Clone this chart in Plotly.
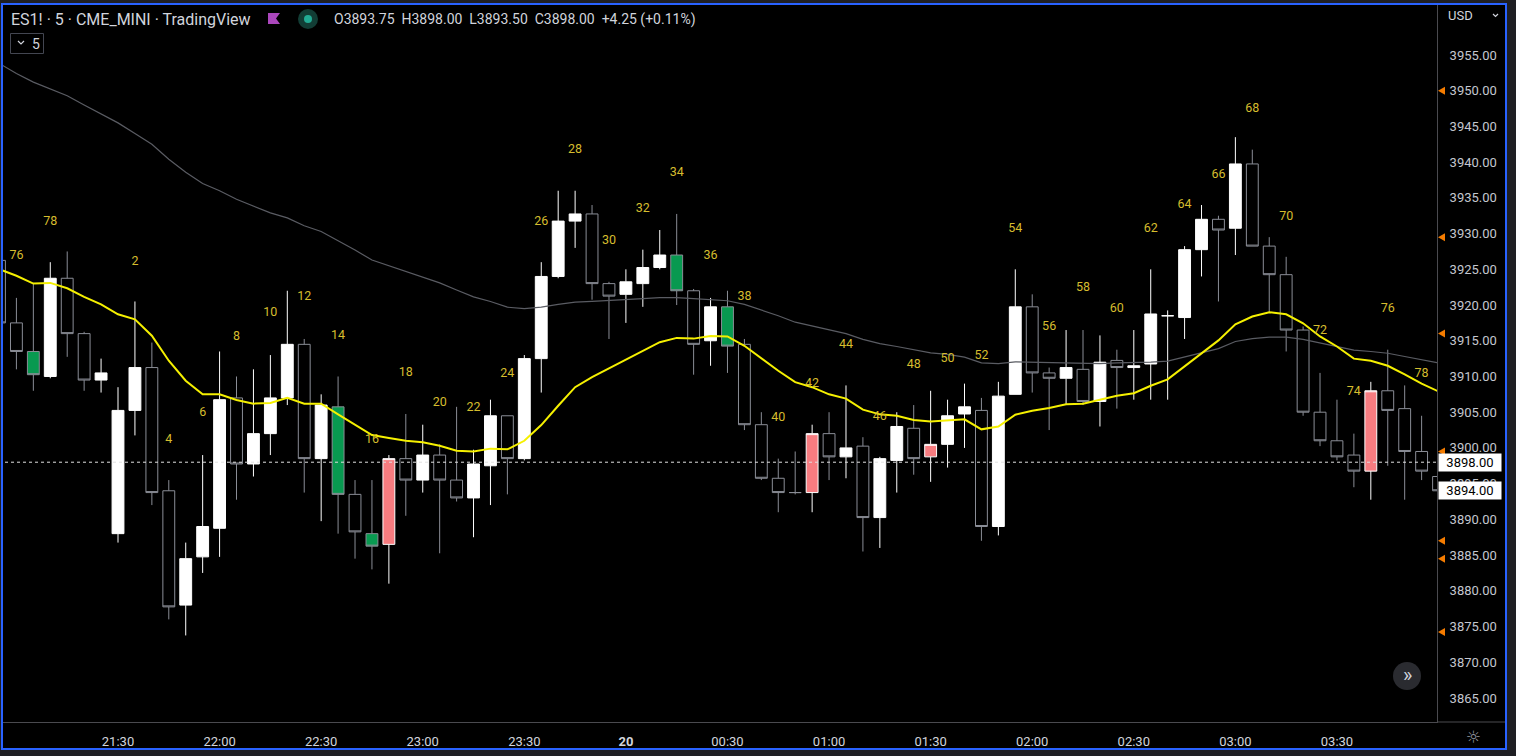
import plotly.graph_objects as go
import pandas as pd

# ---------------- data ----------------
times = list(pd.date_range('2023-01-19 20:55', periods=86, freq='5min'))

opens = [3926.25, 3917.5, 3913.5, 3910.0, 3923.75, 3916.0, 3909.5, 3888.0, 3905.25, 3911.25,
         3894.0, 3878.0, 3884.75, 3888.75, 3907.0, 3897.75, 3902.0, 3907.0, 3914.5, 3898.5,
         3905.75, 3893.5, 3888.0, 3886.5, 3898.5, 3895.5, 3899.0, 3895.5, 3893.0, 3897.5,
         3904.5, 3898.5, 3912.5, 3924.0, 3931.75, 3932.75, 3923.0, 3921.5, 3923.0, 3925.25,
         3927.0, 3922.0, 3915.0, 3919.75, 3914.5, 3903.25, 3895.75, 3893.75, 3893.75, 3902.0,
         3898.75, 3900.25, 3890.25, 3898.25, 3902.75, 3898.75, 3900.5, 3904.75, 3905.25, 3889.0,
         3907.5, 3919.75, 3910.5, 3909.75, 3911.0, 3906.5, 3912.25, 3911.25, 3911.75, 3918.5,
         3918.25, 3927.75, 3932.0, 3930.75, 3939.75, 3928.25, 3924.25, 3916.5, 3905.0, 3901.0,
         3899.0, 3896.75, 3908.0, 3905.5, 3899.5, 3896.0]
highs = [3927.0, 3921.0, 3923.0, 3926.0, 3927.5, 3916.25, 3912.5, 3908.5, 3920.5, 3914.75,
         3895.5, 3886.75, 3899.0, 3913.5, 3910.0, 3911.0, 3913.0, 3922.0, 3915.25, 3907.5,
         3910.0, 3895.5, 3895.5, 3899.0, 3904.75, 3903.25, 3900.5, 3905.75, 3899.75, 3906.75,
         3904.5, 3913.0, 3926.0, 3936.0, 3936.0, 3934.0, 3923.25, 3925.0, 3927.75, 3930.5,
         3932.75, 3922.25, 3921.0, 3922.0, 3915.25, 3905.0, 3898.5, 3899.5, 3903.25, 3905.0,
         3908.75, 3901.5, 3898.75, 3905.0, 3906.0, 3908.0, 3906.75, 3909.0, 3907.0, 3909.25,
         3925.0, 3921.5, 3911.25, 3916.5, 3916.5, 3915.75, 3913.75, 3916.5, 3925.0, 3919.25,
         3928.25, 3934.0, 3932.5, 3943.5, 3941.75, 3929.5, 3926.75, 3917.0, 3910.5, 3906.75,
         3902.0, 3909.25, 3913.75, 3908.75, 3904.5, 3898.0]
lows = [3916.5, 3911.0, 3908.0, 3909.75, 3912.75, 3908.0, 3907.75, 3886.75, 3901.75, 3892.0,
        3876.0, 3873.75, 3882.5, 3884.75, 3892.75, 3896.0, 3899.0, 3906.0, 3893.75, 3889.75,
        3888.0, 3884.5, 3883.0, 3881.0, 3890.5, 3893.75, 3885.25, 3892.5, 3887.5, 3892.0,
        3893.5, 3898.25, 3907.75, 3923.75, 3928.0, 3920.75, 3915.25, 3917.5, 3919.75, 3925.0,
        3920.0, 3910.25, 3911.5, 3910.5, 3902.5, 3895.5, 3891.0, 3893.5, 3891.0, 3895.5,
        3895.75, 3885.5, 3886.0, 3893.75, 3896.25, 3895.25, 3897.25, 3900.0, 3887.0, 3887.75,
        3907.5, 3907.75, 3902.5, 3906.0, 3906.0, 3903.0, 3905.5, 3906.75, 3906.75, 3906.75,
        3915.25, 3924.0, 3920.5, 3927.0, 3928.25, 3919.0, 3913.5, 3904.5, 3900.25, 3898.25,
        3894.5, 3892.75, 3897.5, 3892.75, 3895.5, 3893.5]
closes = [3917.5, 3913.5, 3910.25, 3923.75, 3916.0, 3909.5, 3910.5, 3905.25, 3911.25, 3893.75,
          3877.75, 3884.5, 3889.0, 3906.75, 3897.75, 3902.0, 3907.0, 3914.5, 3898.5, 3906.0,
          3893.5, 3888.25, 3886.25, 3898.5, 3895.5, 3899.0, 3895.5, 3893.0, 3897.75, 3904.5,
          3898.5, 3912.5, 3924.0, 3931.75, 3932.75, 3923.0, 3921.25, 3923.25, 3925.25, 3927.0,
          3922.0, 3914.5, 3919.75, 3914.25, 3903.25, 3895.75, 3893.75, 3893.75, 3902.0, 3898.75,
          3900.0, 3890.25, 3898.5, 3903.0, 3898.5, 3900.5, 3904.5, 3905.75, 3889.0, 3907.25,
          3919.75, 3910.5, 3909.75, 3911.25, 3906.5, 3912.0, 3911.25, 3911.5, 3918.75, 3918.5,
          3927.75, 3932.0, 3930.5, 3939.75, 3928.25, 3924.25, 3916.5, 3905.0, 3901.0, 3898.75,
          3896.75, 3908.0, 3905.25, 3899.5, 3896.75, 3894.0]
# candle style per bar: W white (up), H hollow (down), G green, P pink
kinds = list("HHGWHHWWWH" "HWWWHWWWHW" "GHGPHWHHWW" "HWWWWHHWWW" "GHWGHHHHPH"
             "WHWWHPWWHW" "WHHWHWHWWW" "WWHWHHHHHH" "HPHHHH")

ema_fast = [3925.0, 3924.1, 3923.0, 3923.1, 3922.35, 3921.15, 3920.1, 3918.7, 3918.0, 3915.7,
            3912.2, 3909.4, 3907.5, 3907.5, 3906.7, 3906.2, 3906.3, 3907.0, 3906.2, 3906.2,
            3904.7, 3903.2, 3901.8, 3901.4, 3901.0, 3900.8, 3900.3, 3899.6, 3899.5, 3899.9,
            3899.8, 3901.0, 3903.2, 3905.9, 3908.5, 3909.9, 3911.1, 3912.3, 3913.5, 3914.8,
            3915.4, 3915.3, 3915.65, 3915.6, 3914.3, 3912.5, 3910.8, 3909.2, 3908.5, 3907.5,
            3906.9, 3905.35, 3904.7, 3904.5, 3903.9, 3903.7, 3903.8, 3904.0, 3902.6, 3903.0,
            3904.65, 3905.2, 3905.6, 3906.1, 3906.2, 3906.7, 3907.3, 3907.65, 3908.7, 3909.6,
            3911.45, 3913.3, 3915.05, 3917.3, 3918.4, 3919.0, 3918.7, 3917.45, 3915.6, 3914.2,
            3912.5, 3912.2, 3911.5, 3910.3, 3909.0, 3907.9]
ma_slow = [3953.8, 3952.4, 3951.2, 3950.3, 3949.3, 3948.0, 3946.8, 3945.5, 3944.0, 3942.5,
           3940.4, 3938.6, 3937.0, 3936.0, 3934.8, 3933.8, 3932.9, 3932.2, 3931.1, 3930.3,
           3929.05, 3927.7, 3926.3, 3925.5, 3924.7, 3923.9, 3923.1, 3922.1, 3921.15, 3920.5,
           3919.7, 3919.5, 3919.7, 3920.1, 3920.4, 3920.5, 3920.6, 3920.7, 3920.9, 3921.05,
           3921.05, 3920.9, 3920.8, 3920.6, 3920.1, 3919.35, 3918.5, 3917.6, 3917.1, 3916.5,
           3916.0, 3915.2, 3914.6, 3914.2, 3913.7, 3913.3, 3913.1, 3912.7, 3911.9, 3911.8,
           3912.05, 3912.0, 3911.95, 3911.9, 3911.8, 3911.8, 3911.9, 3911.9, 3912.0, 3912.15,
           3912.7, 3913.3, 3913.9, 3914.9, 3915.3, 3915.5, 3915.5, 3915.2, 3914.7, 3914.2,
           3913.7, 3913.5, 3913.25, 3912.8, 3912.4, 3911.9]

# bar-count labels: text, bar index, price level
label_text = ["76", "78"] + [str(n) for n in range(2, 80, 2)]
label_idx = [1, 3] + [6 + n for n in range(2, 80, 2)]
label_price = [3926.9, 3931.6, 3926.0, 3901.1, 3904.9, 3915.5, 3918.9, 3921.1, 3915.7, 3901.1,
               3910.5, 3906.3, 3905.6, 3910.3, 3931.6, 3941.7, 3929.0, 3933.4, 3938.5, 3926.9,
               3921.1, 3904.2, 3908.9, 3914.4, 3904.3, 3911.6, 3912.4, 3912.9, 3930.6, 3916.9,
               3922.4, 3919.4, 3930.6, 3934.0, 3938.2, 3947.4, 3932.4, 3916.4, 3907.8, 3919.4,
               3910.3]

alert_prices = [3950.0, 3929.5, 3916.0, 3899.5, 3887.0, 3884.5, 3874.25]
last_price = 3898.00
second_price = 3894.00
price_ticks = list(range(3865, 3960, 5))
time_ticks = ['2023-01-19 21:30', '2023-01-19 22:00', '2023-01-19 22:30', '2023-01-19 23:00',
              '2023-01-19 23:30', '2023-01-20 00:00', '2023-01-20 00:30', '2023-01-20 01:00',
              '2023-01-20 01:30', '2023-01-20 02:00', '2023-01-20 02:30', '2023-01-20 03:00',
              '2023-01-20 03:30']
time_labels = ['21:30', '22:00', '22:30', '23:00', '23:30', '<b>20</b>', '00:30', '01:00',
               '01:30', '02:00', '02:30', '03:00', '03:30']
header_left = "ES1! · 5 · CME_MINI · TradingView"
header_ohlc = "O3893.75  H3898.00  L3893.50  C3898.00  +4.25 (+0.11%)"

assert len(opens) == len(highs) == len(lows) == len(closes) == len(kinds) == 86
assert len(ema_fast) == len(ma_slow) == 86
assert len(label_text) == len(label_idx) == len(label_price)

# ---------------- layout geometry (pixels) ----------------
W, H = 1516, 756
L, R, T, B = 3, 1437, 4, 722
PX_PER_PT = 7.144
Y0 = 3955 - (B - 55) / PX_PER_PT
Y1 = 3955 + (55 - T) / PX_PER_PT


def pxx(x):
    return (x - L) / (R - L)


def pyy(y):
    return 1 - (y - T) / (B - T)


t_ref = pd.Timestamp('2023-01-19 21:30')
px_per_min = 3.386


def px_to_time(x):
    return t_ref + pd.Timedelta(minutes=(x - 118) / px_per_min)


x_range = [px_to_time(L), px_to_time(R)]

FONT = "Roboto"
TXT = "#d1d4dc"
OUTER = '#1f1f23'
SEP = '#4a4a4f'

fig = go.Figure()

styles = {
    'W': ('#ffffff', '#ffffff'),
    'H': ('#000000', '#8a8d96'),
    'G': ('#089950', '#8a8d96'),
    'P': ('#f77c80', '#ffffff'),
}
for k, (fill, line) in styles.items():
    idx = [i for i, kk in enumerate(kinds) if kk == k]
    fig.add_trace(go.Candlestick(
        x=[times[i] for i in idx],
        open=[opens[i] for i in idx], high=[highs[i] for i in idx],
        low=[lows[i] for i in idx], close=[closes[i] for i in idx],
        increasing=dict(fillcolor=fill, line=dict(color=line, width=1)),
        decreasing=dict(fillcolor=fill, line=dict(color=line, width=1)),
        whiskerwidth=0, showlegend=False, hoverinfo='skip'))

fig.add_trace(go.Scatter(x=times, y=ma_slow, mode='lines',
                         line=dict(color='#5a5c63', width=1.2), hoverinfo='skip', showlegend=False))
fig.add_trace(go.Scatter(x=times, y=ema_fast, mode='lines',
                         line=dict(color='#f5f000', width=2), hoverinfo='skip', showlegend=False))

fig.add_trace(go.Scatter(x=[times[i] for i in label_idx], y=label_price, mode='text',
                         text=label_text, textfont=dict(family=FONT, size=12.5, color='#d6bd2e'),
                         hoverinfo='skip', showlegend=False))

# alert markers (left-pointing triangles) on the left edge of the price scale
half = 4 / PX_PER_PT
for p in alert_prices:
    fig.add_shape(type='path', xref='paper', yref='y',
                  path=f"M {pxx(1438)},{p} L {pxx(1445)},{p + half} L {pxx(1445)},{p - half} Z",
                  fillcolor='#f57c00', line_width=0, layer='above')

# last-price dotted line
fig.add_shape(type='line', xref='paper', yref='y', x0=pxx(5), x1=1, y0=last_price, y1=last_price,
              line=dict(color='#e0e0e0', width=1, dash='dot'))

shapes = []
# outer dark strips and blue frame
shapes.append(dict(type='rect', xref='paper', yref='paper', x0=pxx(0), x1=pxx(W), y0=pyy(750), y1=pyy(H),
                   fillcolor=OUTER, line_width=0, layer='above'))
shapes.append(dict(type='rect', xref='paper', yref='paper', x0=pxx(1507), x1=pxx(W), y0=pyy(0), y1=pyy(H),
                   fillcolor=OUTER, line_width=0, layer='above'))
shapes.append(dict(type='rect', xref='paper', yref='paper', x0=pxx(0), x1=pxx(W), y0=pyy(0), y1=pyy(3),
                   fillcolor=OUTER, line_width=0, layer='above'))
shapes.append(dict(type='rect', xref='paper', yref='paper', x0=pxx(0), x1=pxx(1), y0=pyy(H), y1=pyy(0),
                   fillcolor=OUTER, line_width=0, layer='above'))
shapes.append(dict(type='rect', xref='paper', yref='paper', x0=pxx(2), x1=pxx(1506), y0=pyy(749), y1=pyy(4),
                   line=dict(color='#2962ff', width=2), layer='above'))
# time axis separator over price scale
shapes.append(dict(type='line', xref='paper', yref='paper', x0=1, x1=pxx(1505), y0=0, y1=0,
                   line=dict(color=SEP, width=1)))
# interval button
shapes.append(dict(type='rect', xref='paper', yref='paper', x0=pxx(10.5), x1=pxx(43.5), y0=pyy(53.5), y1=pyy(33.5),
                   line=dict(color='#434651', width=1), fillcolor='rgba(0,0,0,0)'))
shapes.append(dict(type='path', xref='paper', yref='paper',
                   path=f"M {pxx(18)},{pyy(41)} L {pxx(21)},{pyy(44)} L {pxx(24)},{pyy(41)}",
                   line=dict(color=TXT, width=1.2)))
# flag icon
shapes.append(dict(type='path', xref='paper', yref='paper',
                   path=f"M {pxx(268)},{pyy(13)} L {pxx(280)},{pyy(13)} L {pxx(276)},{pyy(18.5)} "
                        f"L {pxx(280)},{pyy(24)} L {pxx(268)},{pyy(24)} Z",
                   fillcolor='#ab47bc', line_width=0))
# market status dot
shapes.append(dict(type='circle', xref='paper', yref='paper', x0=pxx(298), x1=pxx(318), y0=pyy(29), y1=pyy(9),
                   fillcolor='#123d35', line_width=0))
shapes.append(dict(type='circle', xref='paper', yref='paper', x0=pxx(304), x1=pxx(312), y0=pyy(23), y1=pyy(15),
                   fillcolor='#22ab94', line_width=0))
# scroll-to-end button
shapes.append(dict(type='circle', xref='paper', yref='paper', x0=pxx(1393), x1=pxx(1421), y0=pyy(690), y1=pyy(662),
                   fillcolor='#2a2b30', line_width=0))
# USD chevron
shapes.append(dict(type='path', xref='paper', yref='paper',
                   path=f"M {pxx(1493)},{pyy(14)} L {pxx(1495.5)},{pyy(16.5)} L {pxx(1498)},{pyy(14)}",
                   line=dict(color=TXT, width=1.2)))
for s in shapes:
    fig.add_shape(**s)

ann = []
ann.append(dict(text=header_left, x=pxx(9), y=pyy(19), xanchor='left', yanchor='middle',
                font=dict(family=FONT, size=16, color=TXT)))
ann.append(dict(text=header_ohlc, x=pxx(332), y=pyy(19.5), xanchor='left', yanchor='middle',
                font=dict(family=FONT, size=14, color=TXT)))
ann.append(dict(text="5", x=pxx(30), y=pyy(43.5), xanchor='left', yanchor='middle',
                font=dict(family=FONT, size=14, color=TXT)))
ann.append(dict(text="»", x=pxx(1407.5), y=pyy(674.5), xanchor='center', yanchor='middle',
                font=dict(family=FONT, size=20, color='#d1d4dc')))
ann.append(dict(text="USD", x=pxx(1446), y=pyy(16), xanchor='left', yanchor='middle',
                font=dict(family=FONT, size=13, color=TXT)))
ann.append(dict(text="☼", x=pxx(1473), y=pyy(737), xanchor='center', yanchor='middle',
                font=dict(family="DejaVu Sans", size=17, color='#9598a1')))
for price in (last_price, second_price):
    ann.append(dict(text=f"{price:.2f}", x=pxx(1437.5), y=price, yref='y', xanchor='left', yanchor='middle',
                    bgcolor='#ffffff', font=dict(family=FONT, size=13, color='#000000'),
                    width=60, align='center', borderpad=1))
for a in ann:
    a.setdefault('xref', 'paper')
    a.setdefault('yref', 'paper')
    a['showarrow'] = False
    fig.add_annotation(**a)

fig.update_layout(
    width=W, height=H,
    margin=dict(l=L, r=W - R, t=T, b=H - B, pad=0),
    paper_bgcolor='#000000', plot_bgcolor='#000000',
    showlegend=False, hovermode=False,
    boxgap=0.3, boxgroupgap=0,
    xaxis=dict(range=x_range, type='date', tickvals=time_ticks, ticktext=time_labels,
               showgrid=False, zeroline=False, showline=True, linecolor=SEP, linewidth=1,
               ticks='', tickfont=dict(family=FONT, size=13, color=TXT), ticklabelstandoff=7,
               rangeslider=dict(visible=False), fixedrange=True),
    yaxis=dict(range=[Y0, Y1], side='right', tickvals=price_ticks,
               ticktext=[f"{p:.2f}" for p in price_ticks],
               showgrid=False, zeroline=False, showline=True, linecolor=SEP, linewidth=1,
               ticks='', tickfont=dict(family=FONT, size=13, color='#c4c7cf'), ticklabelstandoff=9,
               fixedrange=True),
)

fig.write_html("out.html", config={'displayModeBar': False},
               post_script="document.body.style.margin='0';document.body.style.overflow='hidden';")
